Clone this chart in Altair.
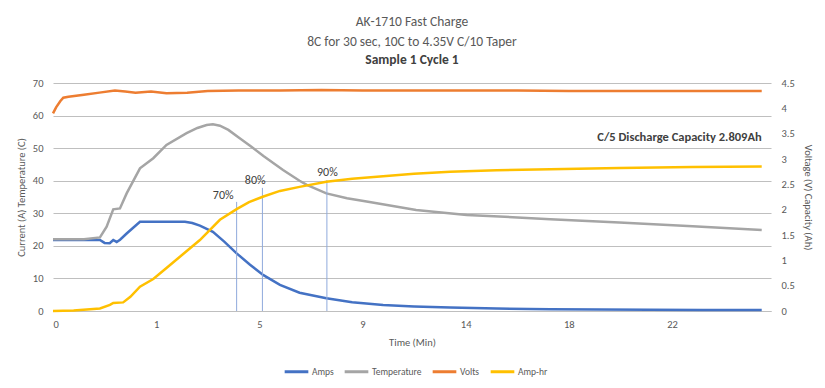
import altair as alt
import pandas as pd

FONT = "Carlito, Roboto, sans-serif"

# x positions are in "category label units": label i sits at position i
x_labels = ["0", "1", "5", "9", "14", "18", "22"]
left_ticks = [0, 10, 20, 30, 40, 50, 60, 70]
right_ticks = [0, 0.5, 1, 1.5, 2, 2.5, 3, 3.5, 4, 4.5]
series_names = ["Amps", "Temperature", "Volts", "Amp-hr"]
series_colors = ["#4472C4", "#A5A5A5", "#ED7D31", "#FFC000"]

amps_t = [0, 0.455, 0.50, 0.55, 0.584, 0.617, 0.65, 0.714, 0.843, 1.279, 1.35, 1.424, 1.55, 1.66,
          1.78, 1.91, 2.04, 2.2, 2.39, 2.65, 2.9, 3.2, 3.5, 3.85, 4.3, 4.82, 5.3, 5.78, 6.3, 6.87]
amps = [21.8, 21.8, 20.9, 20.8, 21.8, 21.2, 21.9, 23.8, 27.4, 27.4, 27.0, 26.2, 24.3, 21.3,
        17.7, 14.2, 11.0, 8.0, 5.6, 3.9, 2.7, 1.85, 1.4, 1.1, 0.75, 0.5, 0.45, 0.35, 0.3, 0.3]

temp_t = [0, 0.3, 0.455, 0.52, 0.584, 0.649, 0.714, 0.843, 0.972, 1.10, 1.295, 1.40, 1.489, 1.55,
          1.618, 1.70, 1.81, 1.92, 2.04, 2.23, 2.39, 2.46, 2.65, 2.85, 3.04, 3.52, 4.01, 4.82,
          5.49, 6.2, 6.87]
temp = [22.0, 22.0, 22.6, 25.9, 31.2, 31.5, 36.1, 43.8, 46.9, 51.0, 54.6, 56.2, 57.1, 57.3,
        56.9, 55.6, 53.0, 50.5, 47.6, 43.3, 40.0, 38.7, 36.1, 34.6, 33.6, 31.0, 29.5, 28.2,
        27.2, 26.0, 24.9]

volts_t = [0, 0.03, 0.07, 0.1, 0.15, 0.3, 0.45, 0.6, 0.7, 0.8, 0.95, 1.1, 1.3, 1.5, 1.8, 2.2,
           2.6, 3.0, 3.5, 4.0, 4.5, 5.0, 5.5, 6.0, 6.5, 6.87]
volts = [3.90, 4.02, 4.14, 4.21, 4.23, 4.27, 4.31, 4.35, 4.33, 4.31, 4.33, 4.30, 4.31, 4.34,
         4.35, 4.35, 4.36, 4.35, 4.35, 4.35, 4.35, 4.34, 4.34, 4.34, 4.34, 4.34]

ah_t = [0, 0.2, 0.455, 0.552, 0.584, 0.68, 0.75, 0.843, 0.972, 1.1, 1.23, 1.424, 1.618, 1.78,
        1.9, 2.04, 2.2, 2.39, 2.65, 2.9, 3.2, 3.5, 3.85, 4.3, 4.82, 5.49, 6.2, 6.87]
ah = [0, 0.01, 0.05, 0.12, 0.16, 0.17, 0.28, 0.48, 0.63, 0.85, 1.07, 1.40, 1.80, 2.01,
      2.15, 2.26, 2.37, 2.45, 2.55, 2.61, 2.66, 2.71, 2.75, 2.78, 2.80, 2.82, 2.84, 2.85]

# percentage markers (vertical lines) and their labels
pct_labels = ["70%", "80%", "90%"]
pct_line_t = [1.78, 2.03, 2.655]
pct_line_top = [33.5, 37.8, 40.2]
pct_text_t = [1.65, 1.96, 2.66]
pct_text_y = [35.6, 40.2, 42.7]

annot_text = ["C/5 Discharge Capacity 2.809Ah"]
annot_t = [6.87]
annot_y = [53.4]

X_MAX = 6.96

left_rows = []
for name, ts, vs in [("Amps", amps_t, amps), ("Temperature", temp_t, temp)]:
    for i, (t, v) in enumerate(zip(ts, vs)):
        left_rows.append({"series": name, "t": t, "v": v, "i": i})
right_rows = []
for name, ts, vs in [("Volts", volts_t, volts), ("Amp-hr", ah_t, ah)]:
    for i, (t, v) in enumerate(zip(ts, vs)):
        right_rows.append({"series": name, "t": t, "v": v, "i": i})
left_df = pd.DataFrame(left_rows)
right_df = pd.DataFrame(right_rows)
pct_df = pd.DataFrame({"t": pct_line_t, "v": [0] * 3, "top": pct_line_top})
pct_txt_df = pd.DataFrame({"t": pct_text_t, "v": pct_text_y, "label": pct_labels})
annot_df = pd.DataFrame({"t": annot_t, "v": annot_y, "label": annot_text})

color_scale = alt.Scale(domain=series_names, range=series_colors)
label_expr = "[" + ",".join('"%s"' % s for s in x_labels) + "][datum.value]"

x_enc = alt.X(
    "t:Q",
    scale=alt.Scale(domain=[0, X_MAX], nice=False, zero=False),
    axis=alt.Axis(values=list(range(len(x_labels))), labelExpr=label_expr, title="Time (Min)",
                  grid=False, ticks=False, domainColor="#BFBFBF", domainWidth=1,
                  labelPadding=8, titlePadding=8, labelOverlap=False),
)
y_left = alt.Y(
    "v:Q",
    scale=alt.Scale(domain=[0, 70], nice=False),
    axis=alt.Axis(values=left_ticks, title="Current (A) Temperature (C)",
                  grid=True, gridColor="#BFBFBF", gridWidth=1, gridOpacity=1,
                  domain=False, ticks=False,
                  labelPadding=10, titlePadding=6, labelOverlap=False),
)
y_right = alt.Y(
    "v:Q",
    scale=alt.Scale(domain=[0, 4.5], nice=False),
    axis=alt.Axis(orient="right", values=right_ticks, format="~g",
                  title="Voltage (V) Capacity (Ah)", grid=False, domain=False, ticks=False,
                  labelPadding=10, titlePadding=8, labelOverlap=False),
)
legend = alt.Legend(title=None, orient="none", legendX=230, legendY=275, direction="horizontal",
                    symbolType="stroke", symbolSize=560, symbolStrokeWidth=3,
                    labelFontSize=9.5, labelColor="#595959", columnPadding=4, labelOffset=2)

left_lines = alt.Chart(left_df).mark_line(strokeWidth=2.5).encode(
    x=x_enc, y=y_left,
    color=alt.Color("series:N", scale=color_scale, legend=legend),
    order="i:Q",
)
rules = alt.Chart(pct_df).mark_rule(color="#8FAADC", strokeWidth=1).encode(
    x=x_enc, y=y_left, y2="top:Q"
)
pct_text = alt.Chart(pct_txt_df).mark_text(fontSize=12, color="#404040", font=FONT).encode(
    x=x_enc, y=y_left, text="label:N"
)
annot = alt.Chart(annot_df).mark_text(fontSize=12.5, color="#404040", font=FONT, align="right",
                                       fontWeight=600).encode(
    x=x_enc, y=y_left, text="label:N"
)
left_layer = alt.layer(left_lines, rules, pct_text, annot)

right_lines = alt.Chart(right_df).mark_line(strokeWidth=2.5).encode(
    x=x_enc, y=y_right,
    color=alt.Color("series:N", scale=color_scale, legend=legend),
    order="i:Q",
)

chart = alt.layer(left_layer, right_lines).resolve_scale(y="independent").properties(
    width=718, height=228,
    autosize=alt.AutoSizeParams(type="none"),
    padding={"left": 45, "top": 75, "right": 46, "bottom": 76},
    title=alt.Title(
        text=["AK-1710 Fast Charge", "8C for 30 sec, 10C to 4.35V C/10 Taper"],
        subtitle="Sample 1 Cycle 1",
        anchor="middle", fontSize=13.5, fontWeight="normal", color="#595959", font=FONT,
        lineHeight=20, subtitleFontSize=13.5, subtitleFontWeight="bold",
        subtitleColor="#404040", subtitleFont=FONT, subtitlePadding=4, offset=12,
    ),
).configure_view(stroke=None).configure_axis(
    labelFont=FONT, titleFont=FONT, labelFontSize=10.5, titleFontSize=10.5,
    labelColor="#595959", titleColor="#595959", titleFontWeight="normal",
).configure_legend(labelFont=FONT)

chart.save("out.html", embed_options={"renderer": "svg", "actions": False})
